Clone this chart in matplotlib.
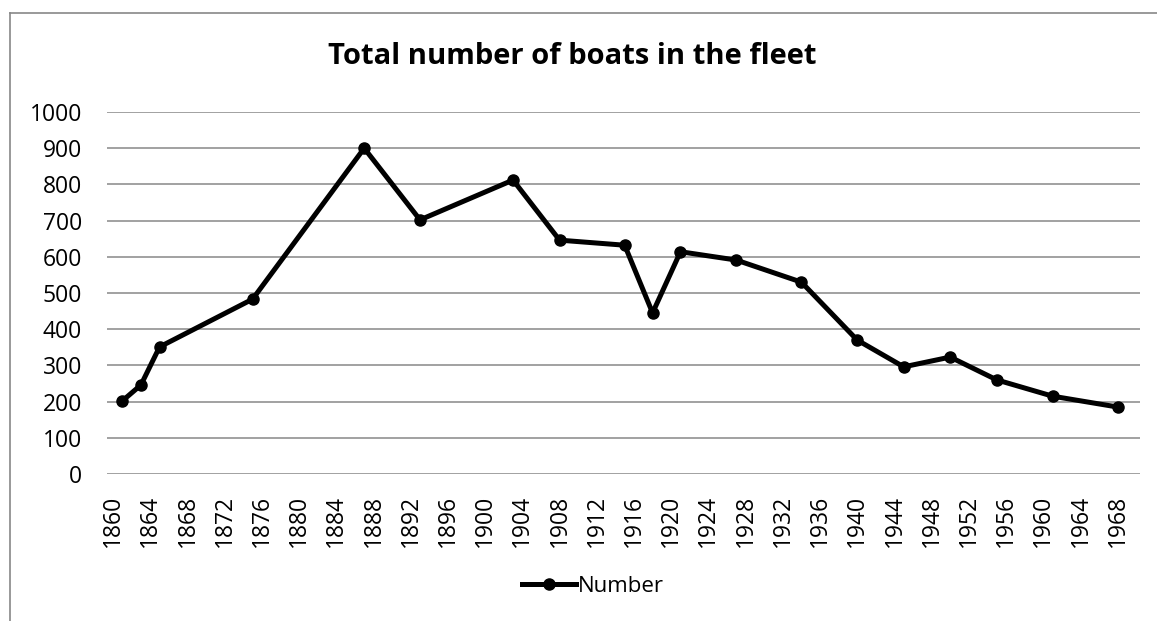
import numpy as np
import matplotlib
matplotlib.use('Agg')
import matplotlib.pyplot as plt
from matplotlib.lines import Line2D

# data
years = [1861, 1863, 1865, 1875, 1887, 1893, 1903, 1908, 1915, 1918,
         1921, 1927, 1934, 1940, 1945, 1950, 1955, 1961, 1968]
boats = [202, 246, 351, 483, 900, 702, 812, 646, 632, 445,
         614, 591, 530, 370, 296, 323, 260, 215, 185]
tick_years = list(range(1860, 1969, 4))
y_ticks = list(range(0, 1001, 100))

plt.rcParams['font.family'] = ['Open Sans', 'DejaVu Sans']

fig = plt.figure(figsize=(11.57, 6.21), dpi=100)
ax = fig.add_axes([107 / 1157, 1 - 474 / 621, (1140 - 107) / 1157, 362 / 621])

grid_col = '#878787'
for v in y_ticks:
    ax.axhline(v, color=grid_col, linewidth=1.1, zorder=1)

ax.plot(years, boats, color='black', linewidth=3.6, marker='o', markersize=8,
        solid_joinstyle='miter', label='Number', zorder=3)

ax.set_xlim(1859.35, 1970.4)
ax.set_ylim(0, 1000)
ax.set_xticks(tick_years)
ax.set_xticklabels([str(t) for t in tick_years], rotation=90, va='top', ha='center')
ax.set_yticks(y_ticks)
ax.tick_params(axis='both', length=0, labelsize=16.5, colors='black')
ax.tick_params(axis='x', pad=15)
ax.tick_params(axis='y', pad=18)
for s in ax.spines.values():
    s.set_visible(False)

fig.text(572 / 1157, 1 - 57 / 621, 'Total number of boats in the fleet',
         ha='center', va='center', fontsize=21, fontweight='bold')

ax.legend(loc='center', bbox_to_anchor=(593 / 1157, 1 - 586 / 621),
          bbox_transform=fig.transFigure, frameon=False, fontsize=16,
          handlelength=2.4, handletextpad=0.1)

# chart area border (cropped on right and bottom)
fig.add_artist(Line2D([10 / 1157, 10 / 1157], [0, 1 - 13 / 621], transform=fig.transFigure,
                      color=grid_col, linewidth=1.2))
fig.add_artist(Line2D([10 / 1157, 1], [1 - 13 / 621, 1 - 13 / 621], transform=fig.transFigure,
                      color=grid_col, linewidth=1.2))

fig.savefig('out.png', dpi=100)
